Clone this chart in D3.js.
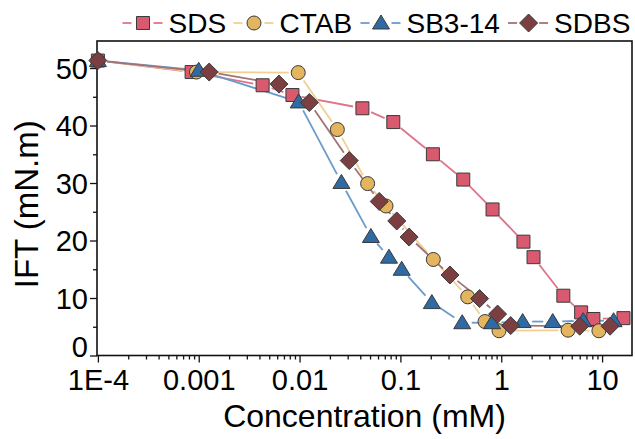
<!DOCTYPE html>
<html><head><meta charset="utf-8">
<script src="https://cdn.jsdelivr.net/npm/d3@7"></script>
<style>body{margin:0;background:#fff}svg{display:block}text{font-family:"Liberation Sans",Arial,Helvetica,sans-serif}</style>
</head><body><svg id="c" width="635" height="439"></svg>
<script>
const seriesNames = ["SDS","CTAB","SB3-14","SDBS"];
const sdsX = [0.0001,0.00085,0.0043,0.0085,0.042,0.085,0.21,0.42,0.82,1.66,2.09,4.13,6.2,8.2,16.3];
const sdsY = [51.3,49.3,47.0,45.3,43.0,40.6,35.0,30.6,25.4,19.8,17.1,10.4,7.5,6.35,6.5];
const ctabX = [0.0001,0.00095,0.0097,0.0237,0.0473,0.072,0.212,0.465,0.69,0.95,4.6,9.3];
const ctabY = [51.3,49.3,49.2,39.3,29.9,26.0,16.7,10.2,5.9,4.3,4.4,4.3];
const sbX = [0.0001,0.001,0.0098,0.026,0.051,0.077,0.103,0.205,0.41,0.81,1.63,3.24,6.5,13];
const sbY = [51.3,49.6,44.1,30.1,20.7,17.1,15.0,9.2,5.7,5.7,5.9,5.9,6.05,6.05];
const sdbsX = [0.0001,0.00127,0.00625,0.0125,0.0311,0.0617,0.092,0.122,0.31,0.61,0.92,1.24,6.0,12.0];
const sdbsY = [51.3,49.3,47.2,44.0,33.9,26.8,23.4,20.6,14.0,9.9,7.2,5.2,5.1,5.1];
const xTicks = [0.0001,0.001,0.01,0.1,1,10];
const xTickLabels = ["1E-4","0.001","0.01","0.1","1","10"];
const yTicks = [0,10,20,30,40,50];

const fills = ["#d9596f","#e3b55e","#2f6aa3","#7b3f42"];
const lineCols = ["#e0738a","#f2cf96","#6b9bcb","#a27375"];
const shapes = ["square","circle","triangle","diamond"];
const series = [
  {name:seriesNames[0], x:sdsX, y:sdsY},
  {name:seriesNames[1], x:ctabX, y:ctabY},
  {name:seriesNames[2], x:sbX, y:sbY},
  {name:seriesNames[3], x:sdbsX, y:sdbsY}
];

const L=97, R=632, T=41, B=355.5;
const svg = d3.select("#c");
const x = d3.scaleLog().domain([0.000098,19.8]).range([L,R]);
const y = d3.scaleLinear().domain([0,54.7]).range([B,T]);

function markerPath(shape){
  if(shape==="square") return "M-6.5,-6.5H6.5V6.5H-6.5Z";
  if(shape==="circle") return d3.symbol(d3.symbolCircle, Math.PI*7*7)();
  if(shape==="triangle") return "M0,-8L8.5,6H-8.5Z";
  return "M0,-9L9,0L0,9L-9,0Z";
}

// axes
const minorX=[];
for(let e=-4;e<=1;e++) for(let m=2;m<=9;m++){const v=m*Math.pow(10,e); if(v<19.8) minorX.push(v);}
const minorY=[5,15,25,35,45];

const gx = svg.append("g").attr("transform",`translate(0,${B})`);
gx.call(d3.axisBottom(x).tickValues(minorX).tickSize(4).tickFormat(""));
const gx2 = svg.append("g").attr("transform",`translate(0,${B})`);
gx2.call(d3.axisBottom(x).tickValues(xTicks).tickSize(7).tickPadding(4).tickFormat((d,i)=>xTickLabels[i]));
const gy = svg.append("g").attr("transform",`translate(${L},0)`);
gy.call(d3.axisLeft(y).tickValues(minorY).tickSize(4).tickFormat(""));
const gy2 = svg.append("g").attr("transform",`translate(${L},0)`);
gy2.call(d3.axisLeft(y).tickValues(yTicks).tickSize(7).tickPadding(2).tickFormat(d3.format("d")));
[gx,gx2,gy,gy2].forEach(g=>{g.select(".domain").remove(); g.selectAll("line").attr("stroke","#111").attr("stroke-width",1.3);});
gx2.selectAll("text").attr("font-size",29).attr("fill","#000").attr("dy","0.71em").attr("y",14);
gy2.selectAll("text").attr("font-size",29).attr("fill","#000").attr("dy",(d)=>d===0?"0.02em":"0.36em");

svg.append("rect").attr("x",L).attr("y",T).attr("width",R-L).attr("height",B-T)
  .attr("fill","none").attr("stroke","#111").attr("stroke-width",1.6);

svg.append("text").attr("x",(L+R)/2).attr("y",427).attr("text-anchor","middle")
  .attr("font-size",32).text("Concentration (mM)");
svg.append("text").attr("transform",`translate(38,${(T+B)/2+6}) rotate(-90)`).attr("text-anchor","middle")
  .attr("font-size",33).text("IFT (mN.m)");

// lines with gaps around markers
const gap=9.5;
const plot = svg.append("g");
series.forEach((s,si)=>{
  const pts = s.x.map((v,i)=>[x(v),y(s.y[i])]);
  for(let i=0;i<pts.length-1;i++){
    const [x0,y0]=pts[i],[x1,y1]=pts[i+1];
    const dx=x1-x0, dy=y1-y0, len=Math.hypot(dx,dy);
    if(len<=2*gap+1) continue;
    const ux=dx/len, uy=dy/len;
    plot.append("line").attr("x1",x0+ux*gap).attr("y1",y0+uy*gap)
      .attr("x2",x1-ux*gap).attr("y2",y1-uy*gap)
      .attr("stroke",lineCols[si]).attr("stroke-width",1.8);
  }
});
series.forEach((s,si)=>{
  plot.selectAll(null).data(s.x).enter().append("path")
    .attr("d",markerPath(shapes[si]))
    .attr("transform",(d,i)=>`translate(${x(d)},${y(s.y[i])})`)
    .attr("fill",fills[si]).attr("stroke","#3a3a3a").attr("stroke-width",1);
});

// legend
const legX=[143,254,381,528.6], legY=23;
const leg = svg.append("g");
series.forEach((s,si)=>{
  const cx=legX[si];
  leg.append("line").attr("x1",cx-20.5).attr("x2",cx-11.5).attr("y1",legY).attr("y2",legY).attr("stroke",lineCols[si]).attr("stroke-width",1.8);
  leg.append("line").attr("x1",cx+10.5).attr("x2",cx+19.5).attr("y1",legY).attr("y2",legY).attr("stroke",lineCols[si]).attr("stroke-width",1.8);
  leg.append("path").attr("d",markerPath(shapes[si])).attr("transform",`translate(${cx},${legY})`)
    .attr("fill",fills[si]).attr("stroke","#3a3a3a").attr("stroke-width",1);
  leg.append("text").attr("x",cx+25.5).attr("y",33).attr("font-size",28).text(s.name);
});
</script></body></html>
